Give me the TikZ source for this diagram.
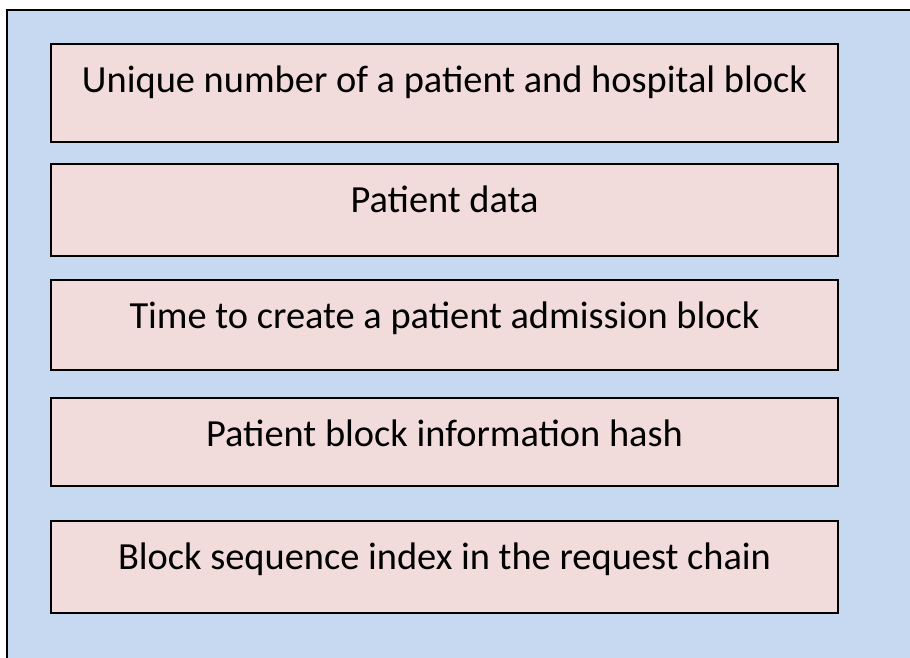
\documentclass[tikz,border=0pt]{standalone}
\usepackage{fontspec}
\setmainfont{Carlito}
\usetikzlibrary{calc}
\definecolor{outerblue}{HTML}{C6D9F0}
\definecolor{boxpink}{HTML}{F2DCDB}
\tikzset{
  fieldbox/.style={draw=black, line width=2pt, fill=boxpink, rectangle, inner sep=0pt, minimum width=787pt},
  fieldtext/.style={anchor=base, inner sep=0pt, font=\fontsize{38.4}{46}\selectfont, text=black},
}
\begin{document}
\begin{tikzpicture}[x=1pt,y=-1pt]
\useasboundingbox (0,0) rectangle (910,657);
\clip (0,0) rectangle (910,657);
\draw[line width=2pt, fill=outerblue] (6.5,9.5) rectangle (930,680);
\node[fieldbox, minimum height=97.5pt] (b1) at (444.5,92.75) {};
\node[fieldbox, minimum height=92pt] (b2) at (444.5,210) {};
\node[fieldbox, minimum height=90pt] (b3) at (444.5,325) {};
\node[fieldbox, minimum height=88pt] (b4) at (444.5,442) {};
\node[fieldbox, minimum height=92pt] (b5) at (444.5,567) {};
\node[fieldtext] (t1) at ($(b1.north)+(0,49)$) {Unique number of a patient and hospital block};
\node[fieldtext] (t2) at ($(b2.north)+(0,49)$) {Patient data};
\node[fieldtext] (t3) at ($(b3.north)+(0,49)$) {Time to create a patient admission block};
\node[fieldtext] (t4) at ($(b4.north)+(0,49)$) {Patient block information hash};
\node[fieldtext] (t5) at ($(b5.north)+(0,49)$) {Block sequence index in the request chain};
\end{tikzpicture}
\end{document}
